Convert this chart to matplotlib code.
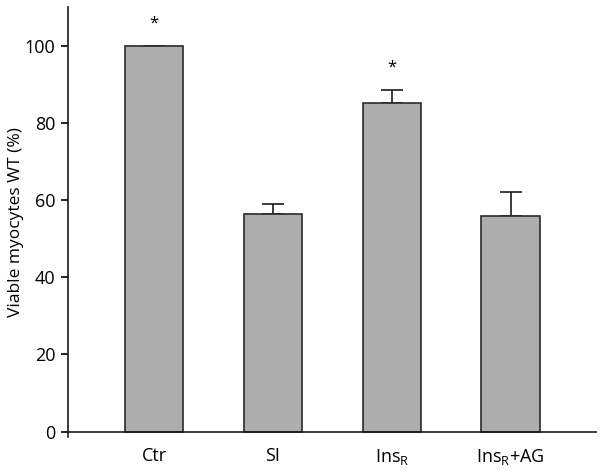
import matplotlib
matplotlib.use("Agg")
from matplotlib import pyplot as plt
import numpy as np

plt.rcParams["font.family"] = ["Open Sans", "DejaVu Sans"]
plt.rcParams["mathtext.fontset"] = "custom"
plt.rcParams["mathtext.rm"] = "Open Sans"
plt.rcParams["mathtext.it"] = "Open Sans"

groups = ["Ctr", "SI", "Ins$_\\mathrm{R}$", "Ins$_\\mathrm{R}$+AG"]
viable = [100.0, 56.3, 85.1, 55.9]
sem = [0.0, 2.6, 3.5, 6.1]
significant = [True, False, True, False]

fig = plt.figure(figsize=(6.04, 4.71), dpi=100)
ax = fig.add_axes([0.1126, 0.073, 0.8744, 0.912])

x = np.arange(len(groups))
ax.bar(x, viable, width=0.49, color="#adadad", edgecolor="#2a2a2a", linewidth=1.2, zorder=2)
ax.errorbar(x, viable, yerr=[np.zeros(len(sem)), sem], fmt="none", ecolor="#1a1a1a",
            elinewidth=1.2, capsize=8, capthick=1.2, zorder=1)

# asterisks above significant groups
for xi, v, e, s in zip(x, viable, sem, significant):
    if s:
        ax.text(xi, v + e + 5.6, "*", ha="center", va="center", fontsize=12)

ax.set_xlim(-0.725, 3.72)
ax.set_ylim(-1.3, 110)
ax.spines["bottom"].set_position(("data", 0))
ax.spines["top"].set_visible(False)
ax.spines["right"].set_visible(False)
for sp in ax.spines.values():
    sp.set_linewidth(1.2)
    sp.set_color("#1a1a1a")

ax.set_yticks([0, 20, 40, 60, 80, 100])
ax.tick_params(axis="y", direction="out", length=5, width=1.2, labelsize=13, pad=4)
ax.set_xticks(x)
ax.set_xticklabels(groups)
ax.tick_params(axis="x", length=0, labelsize=13, pad=11)
ax.set_ylabel("Viable myocytes WT (%)", fontsize=12.5)
ax.yaxis.set_label_coords(-0.083, 0.5)

fig.savefig("out.png", dpi=100)
